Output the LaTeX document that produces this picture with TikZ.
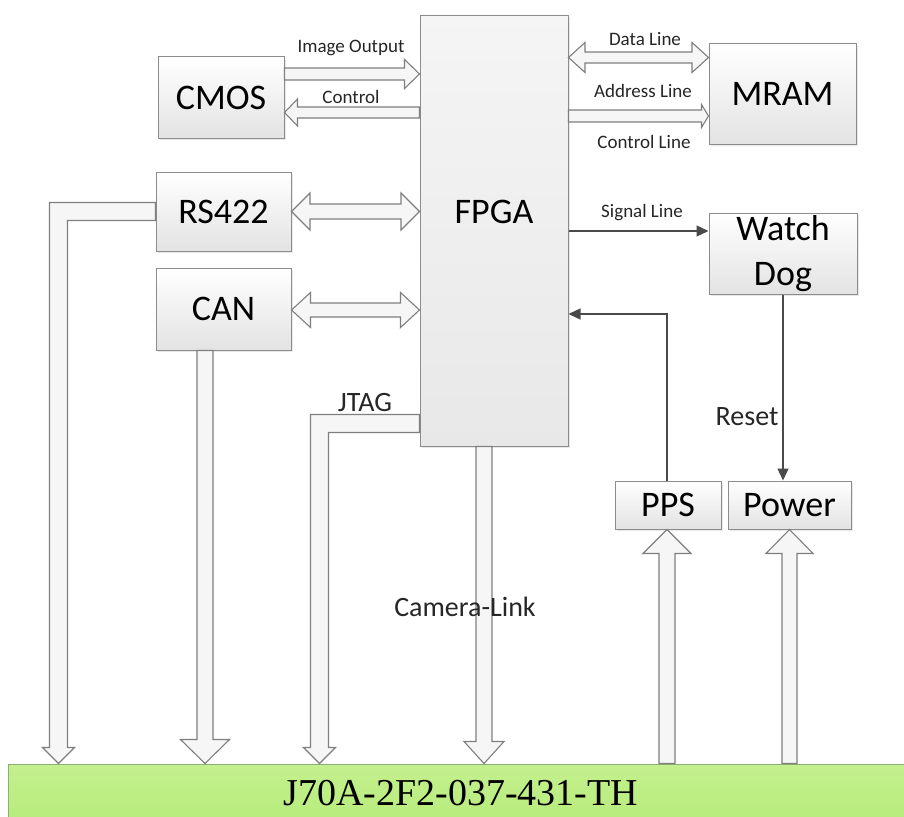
\documentclass[tikz,border=0pt]{standalone}
\usepackage{fontspec}
\setmainfont{Carlito}
\newfontfamily\serifj{Liberation Serif}
\usetikzlibrary{calc,arrows.meta,shadows}

\definecolor{boxline}{HTML}{8C8C8C}
\definecolor{arrline}{HTML}{7F7F7F}
\definecolor{arrfill}{HTML}{F6F6F6}
\definecolor{greenfill}{HTML}{B7EC7C}
\definecolor{greentop}{HTML}{C4F08E}
\definecolor{greenline}{HTML}{8FAF70}
\definecolor{darkline}{HTML}{4A4A4A}

\tikzset{
 box/.style={draw=boxline, line width=1pt, top color=white, bottom color=black!11,
   drop shadow={shadow xshift=2pt, shadow yshift=-2pt, opacity=0.18},
   font=\fontsize{36}{45}\selectfont, inner sep=0pt, align=center},
 boxtext/.style={font=\fontsize{36}{45}\selectfont, inner sep=0pt},
 harrow/.style={draw=arrline, line width=1.1pt, fill=arrfill, line join=miter},
 thinarrow/.style={draw=darkline, line width=1.3pt, -{Triangle[length=12pt,width=11pt]}},
 lbl/.style={font=\fontsize{19}{22}\selectfont, inner sep=0pt, text=black!85},
 biglbl/.style={font=\fontsize{28}{32}\selectfont, inner sep=0pt, text=black!85},
 connbox/.style={draw=greenline, line width=1pt, top color=greentop, bottom color=greenfill,
   font=\serifj\fontsize{38}{42}\selectfont, inner sep=0pt},
}

% straight hollow arrow: from, tip, half shaft, half head, head length
\newcommand\fatarrow[5]{%
 \coordinate (fa-b) at ($(#2)!#5!(#1)$);
 \draw[harrow] ($(#1)!#3!90:(#2)$) -- ($(fa-b)!#3!90:(#2)$) -- ($(fa-b)!#4!90:(#2)$) -- (#2)
   -- ($(fa-b)!#4!-90:(#2)$) -- ($(fa-b)!#3!-90:(#2)$) -- ($(#1)!#3!-90:(#2)$) -- cycle;}
% double hollow arrow
\newcommand\fatdouble[5]{%
 \coordinate (fa-a) at ($(#1)!#5!(#2)$);
 \coordinate (fa-b) at ($(#2)!#5!(#1)$);
 \draw[harrow] (#1) -- ($(fa-a)!#4!90:(#2)$) -- ($(fa-a)!#3!90:(#2)$) -- ($(fa-b)!#3!90:(#2)$)
   -- ($(fa-b)!#4!90:(#2)$) -- (#2) -- ($(fa-b)!#4!-90:(#2)$) -- ($(fa-b)!#3!-90:(#2)$)
   -- ($(fa-a)!#3!-90:(#2)$) -- ($(fa-a)!#4!-90:(#2)$) -- cycle;}
% elbow hollow arrow: start, corner, tip, half shaft, half head, head length (left then down)
\newcommand\fatelbow[6]{%
 \draw[harrow] let \p1=(#1), \p2=(#2), \p3=(#3) in
 (\x1,\y1+#4) -- (\x2-#4,\y1+#4) -- (\x2-#4,\y3+#6) -- (\x2-#5,\y3+#6) -- (\x3,\y3)
   -- (\x2+#5,\y3+#6) -- (\x2+#4,\y3+#6) -- (\x2+#4,\y1-#4) -- (\x1,\y1-#4) -- cycle;}

\begin{document}
\begin{tikzpicture}[x=1pt,y=-1pt]
\useasboundingbox (0,0) rectangle (904,816);
\fill[white] (0,0) rectangle (904,816);
\clip (0,0) rectangle (904,816);

% boxes
\node[box, minimum width=126pt, minimum height=81pt] (cmos) at (221,97.5) {CMOS};
\node[box, minimum width=148pt, minimum height=430pt, top color=white!96!black, bottom color=black!9] (fpga) at (494,231) {};
\node[boxtext] (fpgatext) at (494,212) {FPGA};
\node[box, minimum width=147pt, minimum height=100pt] (mram) at (782.5,94) {MRAM};
\node[box, minimum width=135pt, minimum height=79pt] (rs422) at (223.5,211.5) {RS422};
\node[box, minimum width=135pt, minimum height=82pt] (can) at (223.5,309) {CAN};
\node[box, minimum width=148pt, minimum height=81pt] (watchdog) at (783,253.5) {Watch\\Dog};
\node[box, minimum width=106pt, minimum height=48pt] (pps) at (668,505) {PPS};
\node[box, minimum width=123pt, minimum height=48pt] (power) at (789.5,505) {Power};
\node[connbox, minimum width=906pt, minimum height=58pt] (conn) at (461,793) {J70A-2F2-037-431-TH};

% CMOS <-> FPGA
\coordinate (io1) at ($(cmos.east)+(0,-23.5)$);
\coordinate (io2) at (fpga.west |- io1);
\fatarrow{io1}{io2}{6pt}{14.5pt}{15pt}
\coordinate (ct1) at ($(cmos.east)+(0,15)$);
\coordinate (ct2) at (fpga.west |- ct1);
\fatarrow{ct2}{ct1}{5.5pt}{13.5pt}{13pt}

% FPGA <-> MRAM
\coordinate (dl2) at ($(mram.west)+(0,-36.5)$);
\coordinate (dl1) at (fpga.east |- dl2);
\fatdouble{dl1}{dl2}{5.5pt}{15pt}{16.5pt}
\coordinate (al2) at ($(mram.west)+(0,22)$);
\coordinate (al1) at (fpga.east |- al2);
\fatarrow{al1}{al2}{6pt}{11.5pt}{7pt}

% RS422 / CAN <-> FPGA
\coordinate (rf1) at (rs422.east);
\coordinate (rf2) at (fpga.west |- rf1);
\fatdouble{rf1}{rf2}{7.5pt}{18.5pt}{18.5pt}
\coordinate (cf1) at ($(can.east)+(0,1)$);
\coordinate (cf2) at (fpga.west |- cf1);
\fatdouble{cf1}{cf2}{7pt}{17.5pt}{19pt}

% to connector
\coordinate (rsT) at ($(conn.north west)+(51,0)$);
\coordinate (rsC) at (rsT |- rs422.west);
\fatelbow{rs422.west}{rsC}{rsT}{9pt}{16pt}{16pt}
\coordinate (cd1) at ($(can.south)+(-18.5,0)$);
\coordinate (cd2) at (cd1 |- conn.north);
\fatarrow{cd1}{cd2}{8pt}{24.5pt}{24pt}
\coordinate (jt1) at ($(fpga.west)+(0,192.5)$);
\coordinate (jtT) at ($(conn.north west)+(312,0)$);
\coordinate (jtC) at (jtT |- jt1);
\fatelbow{jt1}{jtC}{jtT}{9pt}{16pt}{16pt}
\coordinate (cl1) at ($(fpga.south)+(-10,0)$);
\coordinate (cl2) at (cl1 |- conn.north);
\fatarrow{cl1}{cl2}{8pt}{20pt}{22pt}

% connector -> PPS / Power
\coordinate (pp1) at ($(pps.south)+(-1,0)$);
\coordinate (pp0) at (pp1 |- conn.north);
\fatarrow{pp0}{pp1}{8pt}{24pt}{24pt}
\coordinate (pw0) at (power.south |- conn.north);
\fatarrow{pw0}{power.south}{7.5pt}{23.5pt}{24pt}

% thin arrows
\coordinate (sg2) at ($(watchdog.west)+(0,-22.5)$);
\coordinate (sg1) at (fpga.east |- sg2);
\draw[thinarrow] (sg1) -- (sg2);
\coordinate (pp2) at ($(pps.north)+(-1,0)$);
\coordinate (pf) at ($(fpga.east)+(0,83)$);
\draw[thinarrow] (pp2) |- (pf);
\draw[thinarrow] (watchdog.south) -- (watchdog.south |- power.north);

% labels
\node[lbl] (l-io) at (351,48) {Image Output};
\node[lbl] (l-ct) at (351,97) {Control};
\node[lbl] (l-dl) at (645,39) {Data Line};
\node[lbl] (l-al) at (643,91) {Address Line};
\node[lbl] (l-cl) at (644,142) {Control Line};
\node[lbl] (l-sg) at (642,213) {Signal Line};
\node[biglbl] (l-jt) at (365,403) {JTAG};
\node[biglbl] (l-rs) at (747,417) {Reset};
\node[biglbl] (l-cam) at (465,607) {Camera-Link};
\end{tikzpicture}
\end{document}
